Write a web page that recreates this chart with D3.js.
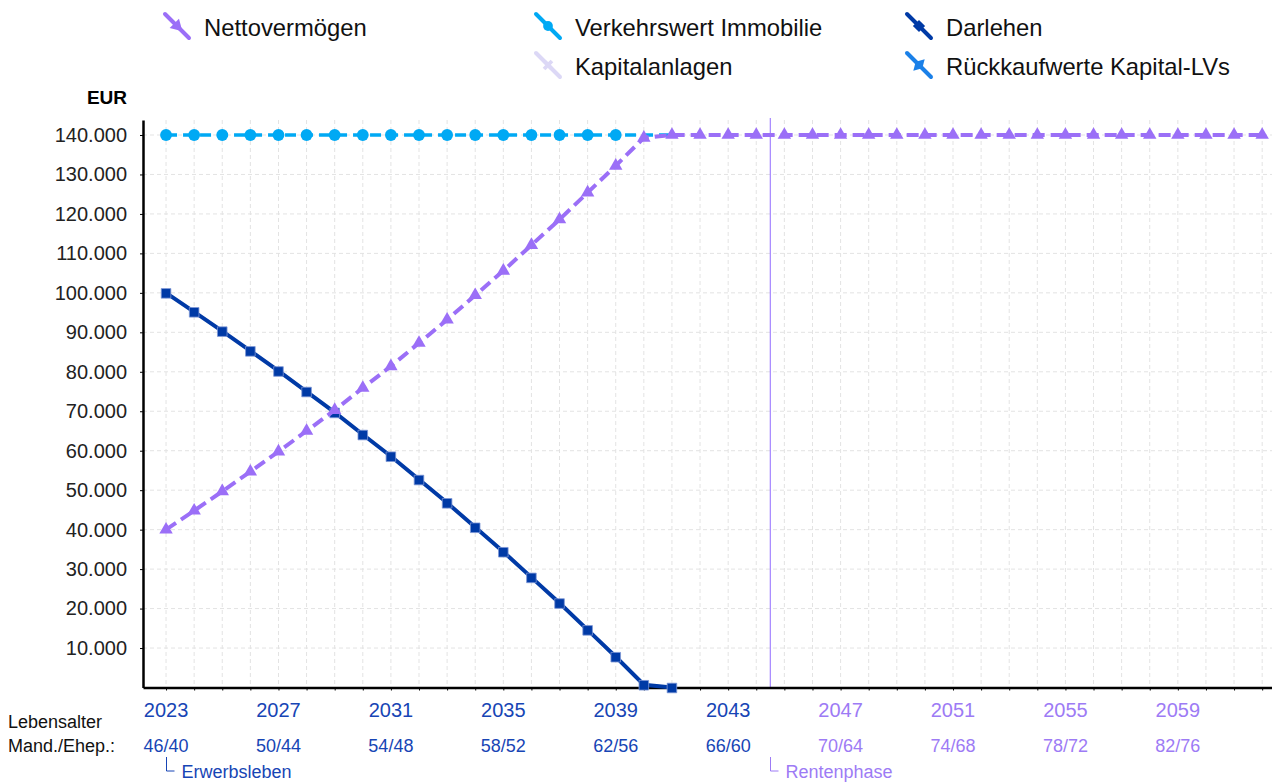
<!DOCTYPE html>
<html>
<head>
<meta charset="utf-8">
<script src="https://cdnjs.cloudflare.com/ajax/libs/d3/7.8.5/d3.min.js"></script>
<style>
	body { margin: 0; background: #fff; }
	svg { font-family: "Liberation Sans", Arial, sans-serif; }
	.grid line { stroke: #e3e3e3; stroke-dasharray: 4,3; }
	.axis path, .axis line { stroke: #000; }
	.axis text { font-size: 20px; fill: #222; }
	.legend text { font-size: 23.8px; fill: #111; }
</style>
</head>
<body>
<svg width="1272" height="782"></svg>
<script>
// chart data
let years = d3.range(2023, 2063);
let labelYears = [2023, 2027, 2031, 2035, 2039, 2043, 2047, 2051, 2055, 2059];
let ageLabels = ["46/40", "50/44", "54/48", "58/52", "62/56", "66/60", "70/64", "74/68", "78/72", "82/76"];
let retireYear = 2044.5;

let nettoValues = [40000, 44800, 49700, 54700, 59800, 65000, 70300, 75900, 81400, 87300,
	93200, 99400, 105600, 112100, 118600, 125400, 132200, 139300,
	140000, 140000, 140000, 140000, 140000, 140000, 140000, 140000, 140000, 140000, 140000,
	140000, 140000, 140000, 140000, 140000, 140000, 140000, 140000, 140000, 140000, 140000];
let immoValues = [140000, 140000, 140000, 140000, 140000, 140000, 140000, 140000, 140000, 140000,
	140000, 140000, 140000, 140000, 140000, 140000, 140000, 140000, 140000];
let darlehenValues = [100000, 95200, 90300, 85300, 80200, 75000, 69700, 64100, 58600, 52700,
	46800, 40600, 34400, 27900, 21400, 14600, 7800, 700, 0];
let yTicks = [10000, 20000, 30000, 40000, 50000, 60000, 70000, 80000, 90000, 100000, 110000, 120000, 130000, 140000];

let legendItems = [
	{name: "Nettovermögen", color: "#9b6ff7", symbol: d3.symbolTriangle, rot: 135, col: 0, row: 0},
	{name: "Verkehrswert Immobilie", color: "#00a9f4", symbol: d3.symbolCircle, rot: 0, col: 1, row: 0},
	{name: "Kapitalanlagen", color: "#dcd8f6", symbol: d3.symbolCross, rot: 45, col: 1, row: 1},
	{name: "Darlehen", color: "#003aa6", symbol: d3.symbolSquare, rot: 45, col: 2, row: 0},
	{name: "Rückkaufwerte Kapital-LVs", color: "#1a80e8", symbol: d3.symbolDiamond, rot: 45, col: 2, row: 1}
];

let blue = "#1745b5", purple = "#9d7bf5";

let svg = d3.select("svg");

//scales
let x = d3.scaleLinear().domain([2022.18, 2062.35]).range([143, 1272]);
let y = d3.scaleLinear().domain([0, 143800]).range([687.5, 120]);

//grid
let grid = svg.append("g").attr("class", "grid");
grid.selectAll(".gv").data(years).enter().append("line")
	.attr("x1", d => x(d)).attr("x2", d => x(d))
	.attr("y1", y(143800)).attr("y2", y(0));
grid.selectAll(".gh").data(yTicks).enter().append("line")
	.attr("x1", x(2022.18)).attr("x2", x(2062.35))
	.attr("y1", d => y(d)).attr("y2", d => y(d));

//retirement marker line
svg.append("line")
	.attr("x1", x(retireYear)).attr("x2", x(retireYear))
	.attr("y1", y(143800) - 2).attr("y2", y(0))
	.attr("stroke", "#a484ff").attr("stroke-width", 1.2);

//y axis
let fmt = d3.formatLocale({decimal: ",", thousands: ".", grouping: [3], currency: ["", "€"]}).format(",.0f");
svg.append("g")
	.attr("class", "axis")
	.attr("transform", "translate(143,0)")
	.call(d3.axisLeft(y).tickValues(yTicks).tickFormat(fmt).tickSize(3).tickSizeOuter(0).tickPadding(13))
	.call(g => g.select(".domain").attr("stroke-width", 2.5));

svg.append("text")
	.attr("x", 127).attr("y", 104)
	.attr("text-anchor", "end")
	.style("font-size", "19px").style("font-weight", "bold")
	.text("EUR");

//x axis
svg.append("g")
	.attr("class", "axis")
	.attr("transform", "translate(0," + y(0) + ")")
	.call(d3.axisBottom(x).tickValues(years).tickFormat("").tickSize(3).tickSizeOuter(0))
	.call(g => g.select(".domain").attr("stroke-width", 2.5));

let lab = svg.append("g");
lab.selectAll(".yr").data(labelYears).enter().append("text")
	.attr("x", d => x(d)).attr("y", 717)
	.attr("text-anchor", "middle")
	.style("font-size", "20px")
	.attr("fill", d => d < retireYear ? blue : purple)
	.text(d => d);
lab.selectAll(".age").data(labelYears).enter().append("text")
	.attr("x", d => x(d)).attr("y", 752)
	.attr("text-anchor", "middle")
	.style("font-size", "18px")
	.attr("fill", d => d < retireYear ? blue : purple)
	.text((d, i) => ageLabels[i]);

lab.append("text").attr("x", 8).attr("y", 728).style("font-size", "18px").attr("fill", "#111").text("Lebensalter");
lab.append("text").attr("x", 8).attr("y", 752).style("font-size", "18px").attr("fill", "#111").text("Mand./Ehep.:");

//phase brackets
[{year: 2023, name: "Erwerbsleben", color: blue}, {year: retireYear, name: "Rentenphase", color: purple}].forEach(function(p) {
	let px = Math.round(x(p.year)) + 0.5;
	lab.append("path")
		.attr("d", "M" + px + ",757V771H" + (px + 8))
		.attr("fill", "none").attr("stroke", p.color).attr("stroke-width", 1);
	lab.append("text")
		.attr("x", px + 15).attr("y", 778)
		.style("font-size", "18px")
		.attr("fill", p.color)
		.text(p.name);
});

//series
let line = d3.line().x(d => x(d.year)).y(d => y(d.value));
function toPoints(vals) { return vals.map((v, i) => ({year: years[i], value: v})); }

let immo = toPoints(immoValues), darlehen = toPoints(darlehenValues), netto = toPoints(nettoValues);

svg.append("path").attr("d", line(immo))
	.attr("fill", "none").attr("stroke", "#00a9f4").attr("stroke-width", 3.4)
	.attr("stroke-dasharray", "11,6");
svg.selectAll(".immo").data(immo.filter(d => d.year < 2040)).enter().append("path")
	.attr("transform", d => "translate(" + x(d.year) + "," + y(d.value) + ")")
	.attr("d", d3.symbol(d3.symbolCircle, 110))
	.attr("fill", "#00a9f4");

svg.append("path").attr("d", line(darlehen))
	.attr("fill", "none").attr("stroke", "#003aa6").attr("stroke-width", 4);
svg.selectAll(".darl").data(darlehen).enter().append("path")
	.attr("transform", d => "translate(" + x(d.year) + "," + (y(d.value) + 0.5) + ")")
	.attr("d", d3.symbol(d3.symbolSquare, 92))
	.attr("fill", "#003aa6").attr("stroke", "#7d97d6").attr("stroke-width", 0.8);

svg.append("path").attr("d", line(netto))
	.attr("fill", "none").attr("stroke", "#9b6ff7").attr("stroke-width", 4)
	.attr("stroke-dasharray", "12,6");
svg.selectAll(".netto").data(netto).enter().append("path")
	.attr("transform", d => "translate(" + x(d.year) + "," + y(d.value) + ")")
	.attr("d", d3.symbol(d3.symbolTriangle, 78))
	.attr("fill", "#9b6ff7");

//legend
let legend = svg.append("g").attr("class", "legend");
let item = legend.selectAll(".item").data(legendItems).enter().append("g")
	.attr("transform", d => "translate(" + (165 + d.col * 371) + "," + (14 + d.row * 39) + ")");
item.append("line")
	.attr("x1", 0).attr("y1", 0).attr("x2", 24).attr("y2", 24)
	.attr("stroke", d => d.color).attr("stroke-width", 4).attr("stroke-linecap", "round");
item.append("path")
	.attr("transform", d => "translate(12,12) rotate(" + d.rot + ")")
	.attr("d", d => d3.symbol(d.symbol, d.symbol === d3.symbolCross ? 70 : 75)())
	.attr("fill", d => d.color);
item.append("text")
	.attr("x", 39).attr("y", 22)
	.text(d => d.name);
</script>
</body>
</html>
